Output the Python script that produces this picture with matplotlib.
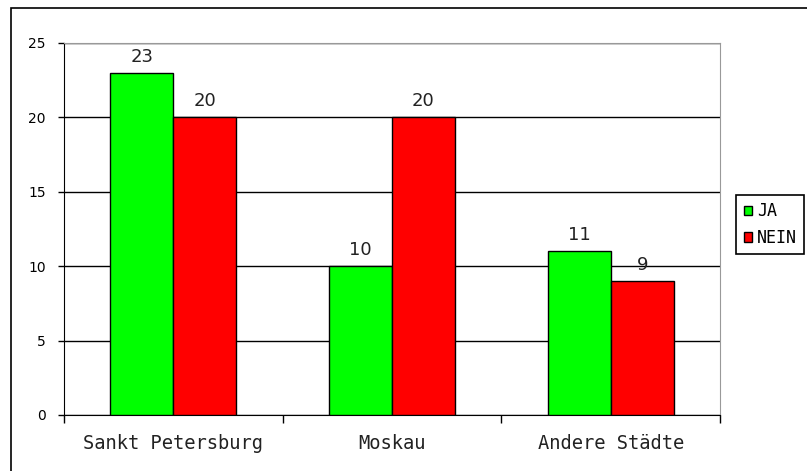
import matplotlib.pyplot as plt
from matplotlib.patches import Rectangle
import numpy as np

# Daten
staedte = ['Sankt Petersburg', 'Moskau', 'Andere Städte']
ja = [23, 10, 11]
nein = [20, 20, 9]
y_ticks = [0, 5, 10, 15, 20, 25]

plt.rcParams['font.family'] = ['DejaVu Sans']

fig = plt.figure(figsize=(8.07, 4.71), dpi=100)
ax = fig.add_axes([64 / 807, 1 - 415 / 471, 656 / 807, 372 / 471])

x = np.arange(len(staedte)) + 0.5
breite = 0.288
b1 = ax.bar(x - breite / 2, ja, breite, color='#00ff00', edgecolor='black', linewidth=1, label='JA', zorder=3)
b2 = ax.bar(x + breite / 2, nein, breite, color='#ff0000', edgecolor='black', linewidth=1, label='NEIN', zorder=3)

# Werte über den Balken
for bars in (b1, b2):
    for b in bars:
        ax.annotate(str(int(b.get_height())), (b.get_x() + b.get_width() / 2, b.get_height()),
                    xytext=(0, 5), textcoords='offset points', ha='center', va='bottom',
                    fontsize=13, color='#222222')

ax.set_xlim(0, 3)
ax.set_ylim(0, 25)
ax.set_yticks(y_ticks)
ax.yaxis.grid(True, color='black', linewidth=1)
ax.set_axisbelow(True)

# Kategorien zwischen den Teilstrichen
ax.set_xticks([0, 1, 2, 3])
ax.set_xticklabels([])
ax.set_xticks(x, minor=True)
ax.set_xticklabels(staedte, minor=True, fontsize=13.5, family='DejaVu Sans Mono', color='#222222')
ax.tick_params(axis='x', which='minor', length=0, pad=14)
ax.tick_params(axis='x', which='major', length=6, width=1, direction='out')
ax.tick_params(axis='y', length=4, width=1, labelsize=10, pad=9)

for s in ('top', 'right'):
    ax.spines[s].set_color('#999999')
for s in ('left', 'bottom'):
    ax.spines[s].set_color('black')

leg = fig.legend(loc='upper left', bbox_to_anchor=(736 / 807, 1 - 195 / 471),
                 prop={'family': 'DejaVu Sans Mono', 'size': 12},
                 frameon=True, fancybox=False, edgecolor='black', framealpha=1,
                 handlelength=0.5, handleheight=0.5, handletextpad=0.3, borderpad=0.45,
                 labelspacing=0.5, borderaxespad=0)
leg.get_frame().set_linewidth(1.2)

# äußerer Rahmen
fig.patches.append(Rectangle((11 / 807, -0.1), 1.2, 1 - 8 / 471 + 0.1, transform=fig.transFigure,
                             fill=False, edgecolor='black', linewidth=1.2))

fig.savefig('out.png', dpi=100)
